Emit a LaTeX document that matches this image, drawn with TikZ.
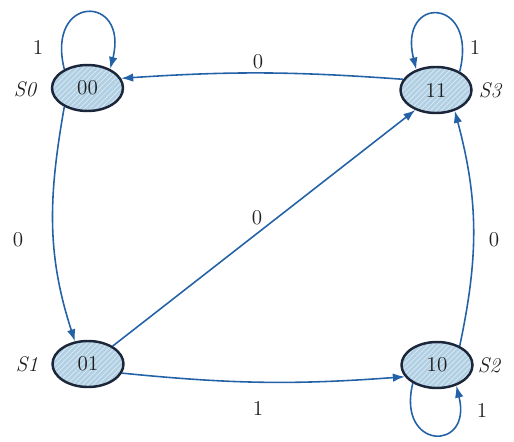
\documentclass[tikz,border=0pt]{standalone}
\usepackage{tikz}
\usetikzlibrary{arrows.meta,shapes.geometric,patterns}
\definecolor{edgeblue}{RGB}{36,98,168}
\definecolor{statefill}{RGB}{178,208,228}
\definecolor{statedraw}{RGB}{28,38,58}
\definecolor{textdark}{RGB}{30,30,30}

\begin{document}
\begin{tikzpicture}[x=1cm,y=1cm,every node/.style={font=\large,text=textdark},
  state/.style={ellipse,draw=statedraw,line width=1.4pt,minimum width=1.42cm,minimum height=.92cm,inner sep=0pt,
    preaction={fill=statefill},pattern=north east lines,pattern color=white!55!statefill},
  tr/.style={-{Latex[length=2.4mm,width=1.7mm]},edgeblue,line width=.9pt},
  sname/.style={font=\large\itshape}]
    \useasboundingbox (0,0) rectangle (10.28,8.82);
    % states
    \node[state] (s0) at (1.75,7.06) {00}; \node[sname] (n0) at (.5,7.04) {S0};
    \node[state] (s1) at (1.76,1.54) {01}; \node[sname] (n1) at (.54,1.54) {S1};
    \node[state] (s2) at (8.74,1.52) {10}; \node[sname] (n2) at (9.78,1.52) {S2};
    \node[state] (s3) at (8.72,7.02) {11}; \node[sname] (n3) at (9.8,7.02) {S3};
    % self loops
    \draw[tr] (s0.141) .. controls +(104:1.55) and +(76:1.55) .. (s0.40);
    \node (l00) at (.76,7.88) {1};
    \draw[tr] (s3.38) .. controls +(76:1.55) and +(104:1.55) .. (s3.134);
    \node (l33) at (9.5,7.88) {1};
    \draw[tr] (s2.-143) .. controls +(-104:1.38) and +(-76:1.38) .. (s2.-47);
    \node (l22) at (9.64,.62) {1};
    % transitions
    \draw[tr] (s3.162) to[bend right=4] (s0.16);
    \node (l30) at (5.16,7.58) {0};
    \draw[tr] (s0.-141) to[out=-100,in=108] (s1.120);
    \node (l01) at (.36,4.02) {0};
    \draw[tr] (s1.36) -- (s3.-136);
    \node (l13) at (5.14,4.46) {0};
    \draw[tr] (s1.-15) to[bend right=5] (s2.-160);
    \node (l12) at (5.16,.66) {1};
    \draw[tr] (s2.40) to[out=78,in=-75] (s3.-48);
    \node (l23) at (9.88,4.02) {0};
  \end{tikzpicture}
\end{document}
